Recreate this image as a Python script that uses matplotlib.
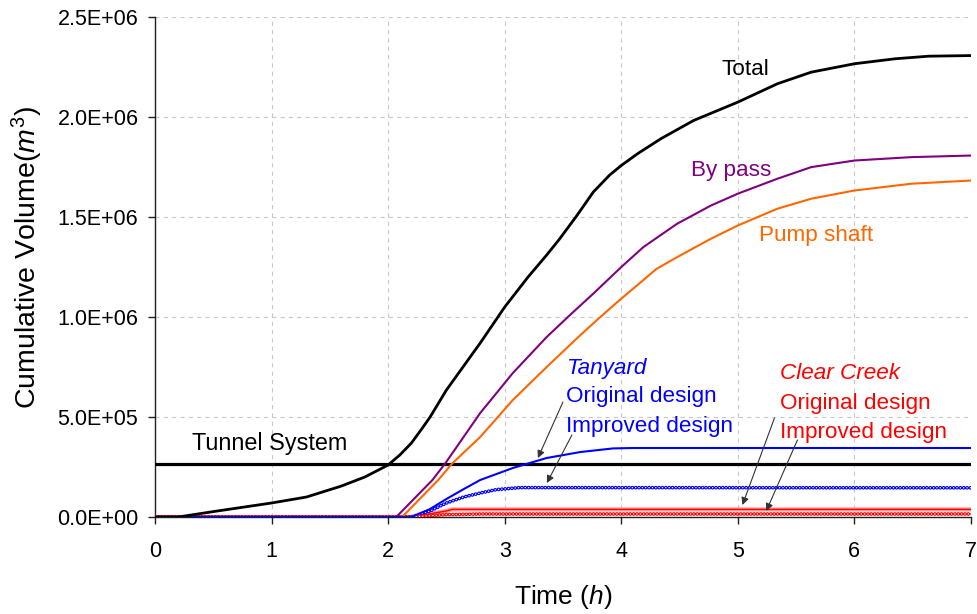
import matplotlib
matplotlib.use("Agg")
import matplotlib.pyplot as plt
from matplotlib.ticker import FuncFormatter, MultipleLocator

plt.rcParams["font.family"] = ["Liberation Sans", "DejaVu Sans"]
plt.rcParams["mathtext.fontset"] = "custom"
plt.rcParams["mathtext.rm"] = "Liberation Sans"
plt.rcParams["mathtext.it"] = "Liberation Sans:italic"
plt.rcParams["lines.scale_dashes"] = False

# Cumulative volume (m^3) against time (h)
t_total = [0, 0.2, 0.5, 1.0, 1.3, 1.6, 1.8, 2.0, 2.1, 2.2, 2.3, 2.36, 2.5, 2.79,
           3.0, 3.2, 3.36, 3.47, 3.62, 3.76, 3.9, 4.0, 4.14, 4.34, 4.62, 5.0,
           5.34, 5.63, 6.0, 6.35, 6.64, 7.0]
v_total = [0, 0, 0.027e6, 0.07e6, 0.1e6, 0.155e6, 0.2e6, 0.26e6, 0.31e6, 0.37e6,
           0.45e6, 0.5e6, 0.635e6, 0.87e6, 1.05e6, 1.2e6, 1.31e6, 1.39e6,
           1.508e6, 1.625e6, 1.71e6, 1.758e6, 1.817e6, 1.892e6, 1.983e6,
           2.075e6, 2.167e6, 2.225e6, 2.267e6, 2.292e6, 2.305e6, 2.308e6]

t_bypass = [0, 2.07, 2.38, 2.49, 2.79, 3.07, 3.36, 3.56, 3.76, 4.0, 4.19, 4.48,
            4.77, 5.0, 5.34, 5.63, 6.0, 6.49, 7.0]
v_bypass = [0, 0, 0.185e6, 0.268e6, 0.52e6, 0.72e6, 0.9e6, 1.01e6, 1.117e6,
            1.25e6, 1.35e6, 1.467e6, 1.558e6, 1.617e6, 1.692e6, 1.75e6,
            1.783e6, 1.8e6, 1.808e6]

t_pump = [0, 2.12, 2.43, 2.55, 2.79, 3.07, 3.36, 3.65, 3.82, 4.0, 4.19, 4.3,
          4.48, 4.77, 5.0, 5.34, 5.63, 6.0, 6.49, 7.0]
v_pump = [0, 0, 0.185e6, 0.268e6, 0.4e6, 0.585e6, 0.75e6, 0.91e6, 1.0e6,
          1.092e6, 1.185e6, 1.24e6, 1.3e6, 1.392e6, 1.458e6, 1.542e6, 1.592e6,
          1.633e6, 1.667e6, 1.683e6]

t_tan_orig = [0, 2.2, 2.36, 2.5, 2.65, 2.79, 3.07, 3.36, 3.65, 3.93, 4.1, 7.0]
v_tan_orig = [0, 0, 0.04e6, 0.09e6, 0.14e6, 0.185e6, 0.245e6, 0.295e6, 0.325e6,
              0.343e6, 0.345e6, 0.345e6]

t_tan_impr = [0, 2.2, 2.36, 2.5, 2.65, 2.79, 2.93, 3.13, 7.0]
v_tan_impr = [0, 0, 0.03e6, 0.07e6, 0.1e6, 0.12e6, 0.137e6, 0.147e6, 0.146e6]

t_cc_orig = [0, 2.2, 2.4, 2.5, 2.55, 7.0]
v_cc_orig = [0, 0, 0.02e6, 0.03e6, 0.038e6, 0.038e6]

t_cc_impr = [0, 2.2, 2.5, 2.8, 7.0]
v_cc_impr = [0, 0, 0.012e6, 0.015e6, 0.015e6]

tunnel_capacity = 2.65e5

fig = plt.figure(figsize=(9.77, 6.14), dpi=100)
ax = fig.add_axes([0.1587, 0.158, 0.835, 0.814])

BLUE = "#0000ff"
RED = "#ff0000"


def dotted_series(t, v, color):
    # thin trace overlaid by a chain of small hollow circles
    ax.plot(t, v, color=color, lw=0.8, zorder=3)
    ax.plot(t, v, color=color, lw=2.7, linestyle=(0, (0.01, 2.4)),
            dash_capstyle="round", zorder=4)
    ax.plot(t, v, color="white", lw=1.1, linestyle=(0, (0.01, 2.4)),
            dash_capstyle="round", zorder=5)


ax.axhline(tunnel_capacity, color="black", lw=2.3, zorder=6)
ax.plot(t_total, v_total, color="black", lw=2.0, zorder=7)
ax.plot(t_bypass, v_bypass, color="#800080", lw=1.5, zorder=6)
ax.plot(t_pump, v_pump, color="#ff6600", lw=1.5, zorder=6)
ax.plot(t_tan_orig, v_tan_orig, color=BLUE, lw=1.5, zorder=6)
dotted_series(t_tan_impr, v_tan_impr, BLUE)
ax.plot(t_cc_orig, v_cc_orig, color="#ff9a9a", lw=3.0, zorder=3)
ax.plot(t_cc_orig, v_cc_orig, color=RED, lw=1.0, zorder=4)
dotted_series(t_cc_impr, v_cc_impr, RED)

ax.set_xlim(0, 7)
ax.set_ylim(0, 2.5e6)
ax.xaxis.set_major_locator(MultipleLocator(1))
ax.yaxis.set_major_locator(MultipleLocator(5e5))
ax.yaxis.set_major_formatter(FuncFormatter(lambda v, p: f"{v:.1E}"))

ax.grid(True, color="#c8c8c8", linestyle=(0, (3, 3)), lw=0.8)
ax.set_axisbelow(True)
for side in ("top", "right"):
    ax.spines[side].set_visible(False)
for side in ("left", "bottom"):
    ax.spines[side].set_color("#202020")
    ax.spines[side].set_linewidth(1.0)
ax.tick_params(axis="both", direction="out", length=5, width=1.0,
               color="#202020", labelsize=15.5)
ax.tick_params(axis="y", pad=7)
ax.tick_params(axis="x", pad=12)

ax.set_xlabel("Time ($\\it{h}$)", fontsize=19)
ax.xaxis.set_label_coords(0.5, -0.133)
ax.xaxis.label.set_va("top")
ax.set_ylabel("Cumulative Volume($\\it{m}^{3}$)", fontsize=20.5)
ax.yaxis.set_label_coords(-0.135, 0.52)

fs = 16.2
ax.text(4.863, 2.24e6, "Total", color="black", fontsize=fs, va="center")
ax.text(4.597, 1.735e6, "By pass", color="#800080", fontsize=fs, va="center")
ax.text(5.186, 1.41e6, "Pump shaft", color="#ff6600", fontsize=fs, va="center")
ax.text(0.32, 0.37e6, "Tunnel System", color="black", fontsize=fs + 0.6,
        va="center")
ax.text(3.533, 0.745e6, "Tanyard", color=BLUE, fontsize=fs, va="center",
        style="italic")
ax.text(3.525, 0.605e6, "Original design", color=BLUE, fontsize=fs, va="center")
ax.text(3.525, 0.455e6, "Improved design", color=BLUE, fontsize=fs, va="center")
ax.text(5.365, 0.72e6, "Clear Creek", color=RED, fontsize=fs, va="center",
        style="italic")
ax.text(5.365, 0.57e6, "Original design", color=RED, fontsize=fs, va="center")
ax.text(5.365, 0.425e6, "Improved design", color=RED, fontsize=fs, va="center")

arrow = dict(arrowstyle="-|>", color="#333333", lw=0.8, mutation_scale=11,
             shrinkA=0, shrinkB=0)
for start, end in [((3.50, 0.575e6), (3.285, 0.295e6)),
                   ((3.577, 0.41e6), (3.362, 0.17e6)),
                   ((5.315, 0.495e6), (5.04, 0.06e6)),
                   ((5.512, 0.385e6), (5.245, 0.03e6))]:
    ax.annotate("", xy=end, xytext=start, arrowprops=arrow, zorder=8)

fig.savefig("out.png", dpi=100, facecolor="white")
